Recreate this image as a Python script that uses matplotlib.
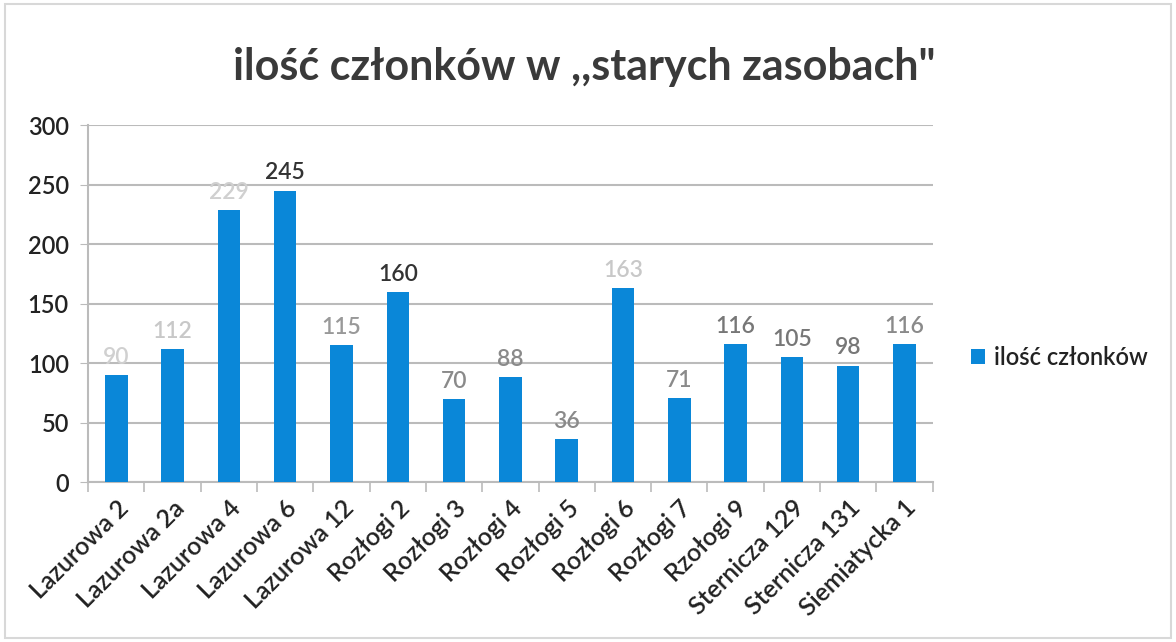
import matplotlib.pyplot as plt
import numpy as np

# dane
adresy = ['Lazurowa 2', 'Lazurowa 2a', 'Lazurowa 4', 'Lazurowa 6', 'Lazurowa 12',
          'Rozłogi 2', 'Rozłogi 3', 'Rozłogi 4', 'Rozłogi 5', 'Rozłogi 6',
          'Rozłogi 7', 'Rzołogi 9', 'Sternicza 129', 'Sternicza 131', 'Siemiatycka 1']
czlonkowie = [90, 112, 229, 245, 115, 160, 70, 88, 36, 163, 71, 116, 105, 98, 116]
# kolory etykiet (skan - czesc wyblakla)
kolory_etykiet = ['#d0d0d0', '#c8c8c8', '#d0d0d0', '#333333', '#999999',
                  '#333333', '#8a8a8a', '#8a8a8a', '#8a8a8a', '#c8c8c8',
                  '#8a8a8a', '#777777', '#777777', '#777777', '#8a8a8a']

plt.rcParams['font.family'] = ['Lato', 'DejaVu Sans']

fig = plt.figure(figsize=(11.76, 6.42), dpi=100)
ax = fig.add_axes([0.075, 0.249, 0.718, 0.556])

x = np.arange(len(adresy))
bars = ax.bar(x, czlonkowie, width=0.4, color='#0A87D8', label='ilość członków', zorder=3)

for xi, v, c in zip(x, czlonkowie, kolory_etykiet):
    ax.text(xi, v + 6, str(v), ha='center', va='bottom', fontsize=16.5, color=c,
            fontweight='semibold', zorder=4)

# os y
ax.set_ylim(0, 300)
ax.set_yticks(range(0, 301, 50))
ax.tick_params(axis='y', labelsize=17, length=6, color='#bbbbbb', pad=8, labelcolor='#222222')
for t in ax.get_yticklabels():
    t.set_fontweight('semibold')
ax.grid(axis='y', color='#bbbbbb', lw=1.5, zorder=0)

# os x
ax.set_xlim(-0.5, len(adresy) - 0.5)
ax.set_xticks(x)
ax.set_xticklabels(adresy, rotation=45, ha='right', rotation_mode='anchor', fontsize=18,
                   color='#222222', fontweight='semibold')
ax.tick_params(axis='x', length=0, pad=10)
ax.set_xticks(np.arange(-0.5, len(adresy), 1), minor=True)
ax.tick_params(axis='x', which='minor', length=7, color='#bbbbbb', width=1.2)

for s in ['top', 'right']:
    ax.spines[s].set_visible(False)
ax.spines['left'].set_color('#bbbbbb')
ax.spines['bottom'].set_color('#bbbbbb')
ax.spines['left'].set_linewidth(1.5)
ax.spines['bottom'].set_linewidth(1.5)

fig.text(0.497, 0.895, 'ilość członków w ,,starych zasobach"', ha='center', va='center',
         fontsize=31, fontweight='bold', color='#3a3a3a')

leg = ax.legend(loc='center left', bbox_to_anchor=(1.02, 0.35), frameon=False, fontsize=17,
                handlelength=0.6, handleheight=0.6, handletextpad=0.4, labelcolor='#222222')
for t in leg.get_texts():
    t.set_fontweight('semibold')

# ramka
fig.patches.append(plt.Rectangle((0.004, 0.006), 0.992, 0.988, transform=fig.transFigure,
                                 fill=False, edgecolor='#d8d8d8', lw=1.5))

plt.savefig('out.png', dpi=100)
